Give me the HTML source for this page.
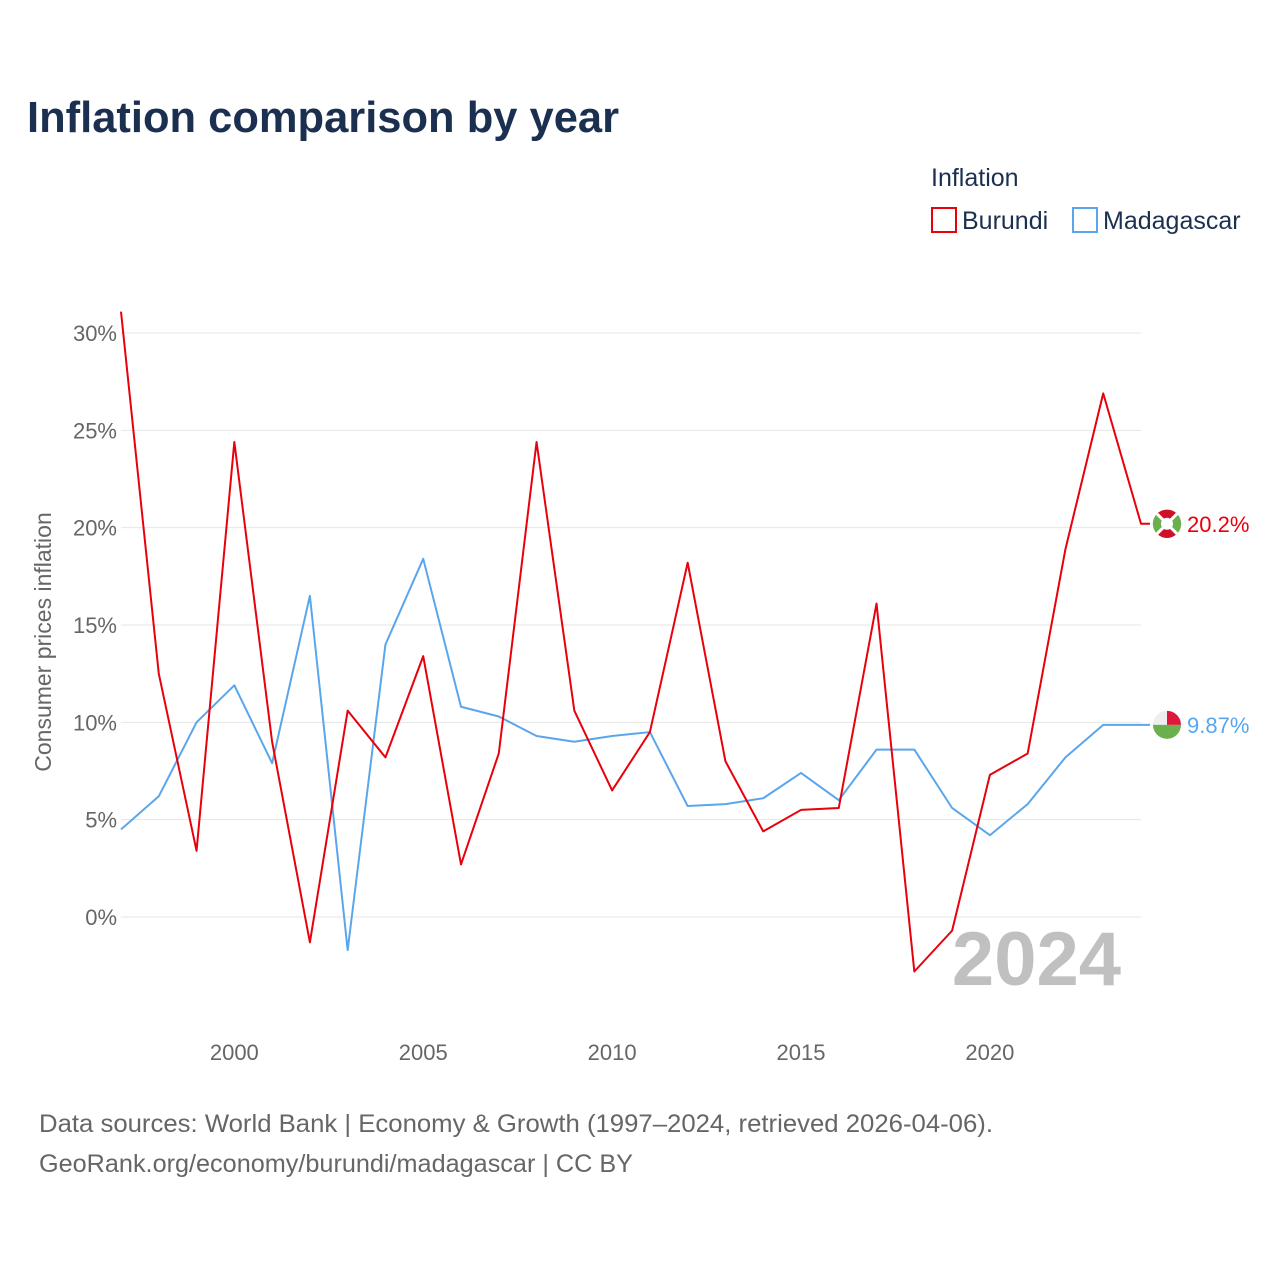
<!DOCTYPE html>
<html><head><meta charset="utf-8"><style>
body{margin:0;background:#fff;font-family:"Liberation Sans",sans-serif;}
svg text{font-family:"Liberation Sans",sans-serif;}
</style></head><body>
<svg id="chart" width="1280" height="1280" viewBox="0 0 1280 1280" xmlns="http://www.w3.org/2000/svg">
<rect width="1280" height="1280" fill="#fff"/>
<text x="27" y="132" font-size="44" font-weight="bold" fill="#1b3050" textLength="592" lengthAdjust="spacingAndGlyphs">Inflation comparison by year</text>
<text x="931" y="186" font-size="25" fill="#1b3050">Inflation</text>
<g><rect x="932" y="208" width="24" height="24" fill="none" stroke="#e8000b" stroke-width="2"/><text x="962" y="229" font-size="25" fill="#1b3050">Burundi</text></g>
<g><rect x="1073" y="208" width="24" height="24" fill="none" stroke="#5aa6ec" stroke-width="2"/><text x="1103" y="229" font-size="25" fill="#1b3050">Madagascar</text></g>
<text transform="translate(51,642) rotate(-90)" text-anchor="middle" font-size="23" fill="#666">Consumer prices inflation</text>
<g id="grid"></g><g id="ylabels"></g><g id="xlabels"></g>
<text x="1121" y="985" text-anchor="end" font-size="76" font-weight="bold" fill="#c0c0c0">2024</text>
<g id="series"></g>
<text x="39" y="1132" font-size="25" fill="#666" textLength="954" lengthAdjust="spacingAndGlyphs">Data sources: World Bank | Economy &amp; Growth (1997–2024, retrieved 2026-04-06).</text>
<text x="39" y="1172" font-size="25" fill="#666" textLength="594" lengthAdjust="spacingAndGlyphs">GeoRank.org/economy/burundi/madagascar | CC BY</text>
</svg>
<script>
const years=[1997,1998,1999,2000,2001,2002,2003,2004,2005,2006,2007,2008,2009,2010,2011,2012,2013,2014,2015,2016,2017,2018,2019,2020,2021,2022,2023,2024];
const burundi=[31.1,12.5,3.4,24.4,9.0,-1.3,10.6,8.2,13.4,2.7,8.4,24.4,10.6,6.5,9.5,18.2,8.0,4.4,5.5,5.6,16.1,-2.8,-0.7,7.3,8.4,18.9,26.9,20.2];
const madagascar=[4.5,6.2,10.0,11.9,7.9,16.5,-1.7,14.0,18.4,10.8,10.3,9.3,9.0,9.3,9.5,5.7,5.8,6.1,7.4,6.0,8.6,8.6,5.6,4.2,5.8,8.2,9.87,9.87];
const yTicks=[0,5,10,15,20,25,30];
const xTicks=[2000,2005,2010,2015,2020];
const endLabels=["20.2%","9.87%"];
const NS="http://www.w3.org/2000/svg";
const x=v=>121+(v-1997)*(1141-121)/27;
const y=v=>917-v*(917-333)/30;
function mk(t,a,p){const e=document.createElementNS(NS,t);for(const k in a)e.setAttribute(k,a[k]);p.appendChild(e);return e;}
const grid=document.getElementById('grid'),yl=document.getElementById('ylabels'),xl=document.getElementById('xlabels'),ser=document.getElementById('series');
yTicks.forEach(t=>{
 const l=mk('line',{x1:121,x2:1141,y1:y(t),y2:y(t),stroke:'#e6e6e6','stroke-width':1},grid);
 
 
 const tx=mk('text',{x:117,y:y(t)+8,'text-anchor':'end','font-size':22,fill:'#666'},yl);
 tx.textContent=t+'%';
 
 
});
xTicks.forEach(t=>{
 const tx=mk('text',{x:x(t),y:1060,'text-anchor':'middle','font-size':22,fill:'#666'},xl);
 tx.textContent=t;
 
 
});
function line(vals,color,name,label,flag){
 const pts=vals.map((v,i)=>x(years[i])+','+y(v)).join(' ')+' '+(x(2024)+9)+','+y(vals[vals.length-1]);
 const p=mk('polyline',{points:pts,fill:'none',stroke:color,'stroke-width':2,'stroke-linejoin':'round'},ser);
 
 
 const cy=y(vals[vals.length-1]);
 const g=mk('g',{},ser);
 
 
 const cx=1167,r=14;
 if(flag==='bi'){
  mk('circle',{cx:cx,cy:cy,r:r,fill:'#fff'},g);
  mk('path',{d:`M${cx},${cy} L${cx-10},${cy-10} A${r},${r} 0 0 1 ${cx+10},${cy-10} Z`,fill:'#ce1126'},g);
  mk('path',{d:`M${cx},${cy} L${cx+10},${cy+10} A${r},${r} 0 0 1 ${cx-10},${cy+10} Z`,fill:'#ce1126'},g);
  mk('path',{d:`M${cx},${cy} L${cx-10},${cy+10} A${r},${r} 0 0 1 ${cx-10},${cy-10} Z`,fill:'#6ab04c'},g);
  mk('path',{d:`M${cx},${cy} L${cx+10},${cy-10} A${r},${r} 0 0 1 ${cx+10},${cy+10} Z`,fill:'#6ab04c'},g);
  mk('path',{d:`M${cx-10},${cy-10} L${cx+10},${cy+10} M${cx+10},${cy-10} L${cx-10},${cy+10}`,stroke:'#fff','stroke-width':3},g);
  mk('circle',{cx:cx,cy:cy,r:6,fill:'#fff'},g);
 } else {
  mk('circle',{cx:cx,cy:cy,r:r,fill:'#eee'},g);
  mk('path',{d:`M${cx},${cy} L${cx},${cy-r} A${r},${r} 0 0 1 ${cx+r},${cy} Z`,fill:'#e0173b'},g);
  mk('path',{d:`M${cx-r},${cy} L${cx+r},${cy} A${r},${r} 0 0 1 ${cx-r},${cy} Z`,fill:'#6ab04c'},g);
 }
 const t=mk('text',{x:1187,y:cy+8,'font-size':22,fill:color},ser);
 t.textContent=label;
 
 
}
line(madagascar,'#5aa6ec','madagascar',endLabels[1],'mg');
line(burundi,'#e8000b','burundi',endLabels[0],'bi');
</script>
</body></html>
